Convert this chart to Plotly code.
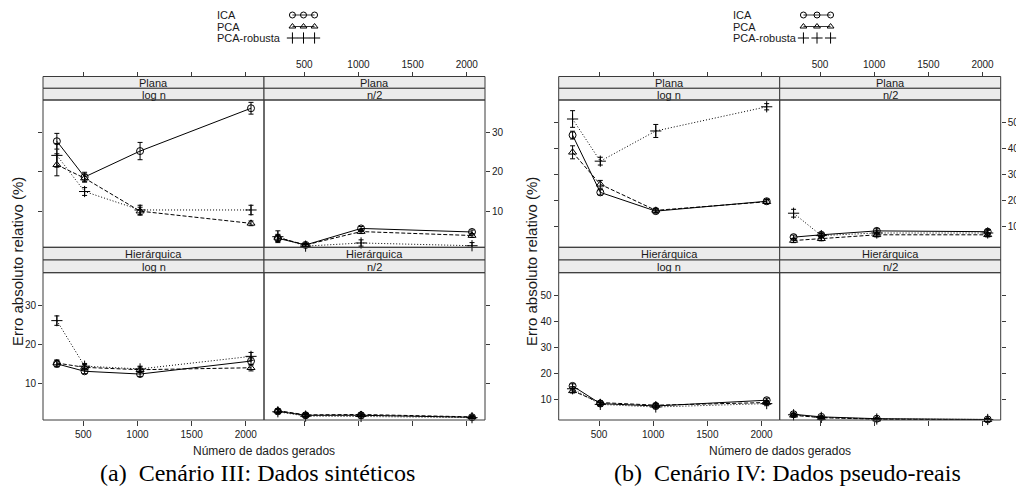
import plotly.graph_objects as go

W, H = 1016, 491

# ---------------- data ----------------
N_DADOS = [256, 512, 1024, 2048]
METODOS = ["ICA", "PCA", "PCA-robusta"]
ESTRUTURAS = ["Plana", "Hierárquica"]
CORTES = ["log n", "n/2"]
X_TICKS = [500, 1000, 1500, 2000]
Y_TICKS_III = [10, 20, 30]
Y_TICKS_IV = [10, 20, 30, 40, 50]
CAPTIONS = ["(a)\u00a0\u00a0Cenário III: Dados sintéticos", "(b)\u00a0\u00a0Cenário IV: Dados pseudo-reais"]
X_TITLE = "Número de dados gerados"
Y_TITLE = "Erro absoluto relativo (%)"

# Cenário III  (Plana / log n, Plana / n/2, Hierárquica / log n, Hierárquica / n/2)
III_ICA = [[27.8, 18.7, 25.3, 36.2], [3.1, 1.4, 5.6, 4.7], [15.1, 13.2, 12.5, 15.8], [3.0, 2.0, 2.0, 1.5]]
III_ICA_ERR = [[2.0, 1.2, 2.2, 1.5], [0.8, 0.4, 0.5, 0.5], [0.8, 0.6, 0.6, 1.0], [0.5, 0.4, 0.4, 0.3]]
III_PCA = [[21.8, 18.4, 10.0, 6.9], [3.3, 1.4, 4.8, 3.8], [15.3, 14.2, 13.6, 14.1], [3.2, 2.1, 2.2, 1.6]]
III_PCA_ERR = [[2.8, 1.0, 1.0, 0.6], [0.8, 0.4, 0.5, 0.5], [0.8, 0.7, 0.7, 0.8], [0.5, 0.4, 0.4, 0.3]]
III_ROB = [[24.2, 15.0, 10.3, 10.3], [3.5, 1.1, 1.9, 1.2], [26.1, 14.5, 13.8, 17.0], [2.9, 1.8, 1.7, 1.4]]
III_ROB_ERR = [[3.0, 1.0, 1.2, 1.2], [1.5, 0.4, 0.8, 0.8], [1.2, 0.7, 0.7, 1.0], [0.5, 0.4, 0.4, 0.3]]

# Cenário IV
IV_ICA = [[45.1, 23.1, 15.9, 19.7], [5.9, 6.8, 8.3, 8.0], [15.1, 8.3, 7.4, 9.6], [4.2, 3.2, 2.5, 2.2]]
IV_ICA_ERR = [[1.5, 1.0, 0.8, 0.8], [0.8, 0.8, 0.8, 0.8], [0.8, 0.7, 0.7, 0.8], [0.5, 0.4, 0.3, 0.3]]
IV_PCA = [[38.5, 26.2, 16.2, 19.5], [4.6, 5.3, 6.8, 6.8], [13.2, 8.7, 7.7, 8.7], [3.8, 2.9, 2.3, 2.1]]
IV_PCA_ERR = [[2.5, 1.5, 0.8, 0.8], [0.8, 0.8, 0.8, 0.8], [0.8, 0.7, 0.7, 0.8], [0.5, 0.4, 0.3, 0.3]]
IV_ROB = [[51.3, 35.1, 46.7, 56.0], [15.1, 6.5, 7.5, 7.5], [14.0, 8.0, 7.0, 8.3], [4.0, 3.0, 2.4, 2.2]]
IV_ROB_ERR = [[3.2, 1.5, 2.5, 1.2], [1.5, 0.8, 0.8, 1.0], [0.8, 0.7, 0.7, 0.8], [0.5, 0.4, 0.3, 0.3]]

LEGEND_KEY_X = [1, 2, 3]
LEGEND_ROW_Y = [3, 2, 1]

# ---------------- styling / layout ----------------
FONT = "Liberation Sans, Arial, Helvetica, sans-serif"
SERIF = "Liberation Serif, Times New Roman, serif"
INK = "#1a1a1a"
FRAME = "#3a3a3a"
STRIP_FILL = "#ececec"

STYLES = [
    dict(symbol="circle-open", dash="solid", size=7),
    dict(symbol="triangle-up-open", dash="4px,2px", size=7),
    dict(symbol="cross-thin-open", dash="1px,2px", size=8),
]

PLOTS = [
    dict(series=[(III_ICA, III_ICA_ERR), (III_PCA, III_PCA_ERR), (III_ROB, III_ROB_ERR)],
         yrange=[0.8, 38.3], yticks=Y_TICKS_III, x0=43.0, legend_text_x=215, legend_key=(288.0, 319.0),
         ytitle_x=17, caption_x=257),
    dict(series=[(IV_ICA, IV_ICA_ERR), (IV_PCA, IV_PCA_ERR), (IV_ROB, IV_ROB_ERR)],
         yrange=[2.0, 58.6], yticks=Y_TICKS_IV, x0=558.7, legend_text_x=731, legend_key=(798.0, 836.0),
         ytitle_x=531, caption_x=787),
]
PANEL_W = 221.0
XRANGE = [128, 2168]
ROWS = [dict(strip_top=76.5, strip_mid=88.3, ptop=100.0, pbot=247.3),
        dict(strip_top=247.3, strip_mid=260.0, ptop=272.7, pbot=420.0)]


def px(x):
    return x / W


def py(y):
    return 1 - y / H


fig = go.Figure()
layout = dict(
    template="none",
    width=W, height=H, margin=dict(l=0, r=0, t=0, b=0),
    paper_bgcolor="white", plot_bgcolor="rgba(0,0,0,0)",
    showlegend=False, font=dict(family=FONT, size=11, color=INK),
)
shapes = []
annotations = []

axis_common = dict(showgrid=False, zeroline=False, showline=False, ticks="outside",
                   tickcolor=FRAME, tickwidth=1, tickfont=dict(family=FONT, size=10, color=INK))

k = 0
for p, plot in enumerate(PLOTS):
    for r, row in enumerate(ROWS):
        for c in range(2):
            k += 1
            panel_idx = r * 2 + c
            xa0 = plot["x0"] + c * PANEL_W
            xa1 = xa0 + PANEL_W
            xname = "xaxis" if k == 1 else f"xaxis{k}"
            yname = "yaxis" if k == 1 else f"yaxis{k}"
            xref = "x" if k == 1 else f"x{k}"
            yref = "y" if k == 1 else f"y{k}"

            xa = dict(axis_common, domain=[px(xa0), px(xa1)], range=XRANGE, tickvals=X_TICKS,
                      ticklen=5)
            if r == 0:
                xa.update(anchor="free", position=py(row["strip_top"]), side="top",
                          showticklabels=(c == 1))
            else:
                xa.update(anchor=yref, side="bottom", showticklabels=(c == 0))
            ya = dict(axis_common, domain=[py(row["pbot"]), py(row["ptop"])], range=plot["yrange"],
                      tickvals=plot["yticks"], anchor=xref, ticklen=4)
            if c == 0:
                ya.update(side="left", showticklabels=(r == 1))
            else:
                ya.update(side="right", showticklabels=(r == 0))
            layout[xname] = xa
            layout[yname] = ya

            # traces
            for m, (vals, errs) in enumerate(plot["series"]):
                st = STYLES[m]
                fig.add_trace(go.Scatter(
                    x=N_DADOS, y=vals[panel_idx], xaxis=xref, yaxis=yref, mode="lines+markers",
                    name=METODOS[m], cliponaxis=False,
                    line=dict(color="black", width=1, dash=st["dash"]),
                    marker=dict(symbol=st["symbol"], size=st["size"], color="black",
                                line=dict(color="black", width=1)),
                    error_y=dict(type="data", array=errs[panel_idx], visible=True,
                                 color="black", thickness=1, width=2.5),
                ))

            # panel frame
            shapes.append(dict(type="rect", xref="paper", yref="paper",
                               x0=px(xa0), x1=px(xa1), y0=py(row["pbot"]), y1=py(row["ptop"]),
                               line=dict(color=FRAME, width=1), fillcolor="rgba(0,0,0,0)"))
            # strips
            for (t0, t1, label) in [(row["strip_top"], row["strip_mid"], ESTRUTURAS[r]),
                                    (row["strip_mid"], row["ptop"], CORTES[c])]:
                shapes.append(dict(type="rect", xref="paper", yref="paper", layer="below",
                                   x0=px(xa0), x1=px(xa1), y0=py(t1), y1=py(t0),
                                   line=dict(color=FRAME, width=1), fillcolor=STRIP_FILL))
                annotations.append(dict(xref="paper", yref="paper", x=px((xa0 + xa1) / 2),
                                        y=py((t0 + t1) / 2 + 0.5), text=label, showarrow=False,
                                        xanchor="center", yanchor="middle",
                                        font=dict(family=FONT, size=11, color=INK)))

    # axis titles
    xmid = plot["x0"] + PANEL_W
    annotations.append(dict(xref="paper", yref="paper", x=px(xmid), y=py(451), text=X_TITLE,
                            showarrow=False, xanchor="center", yanchor="middle",
                            font=dict(family=FONT, size=12, color=INK)))
    annotations.append(dict(xref="paper", yref="paper", x=px(plot["ytitle_x"]), y=py(262),
                            text=Y_TITLE, textangle=-90, showarrow=False, xanchor="center",
                            yanchor="middle", font=dict(family=FONT, size=15, color=INK)))
    annotations.append(dict(xref="paper", yref="paper", x=px(plot["caption_x"]), y=py(472.5),
                            text=CAPTIONS[p], showarrow=False, xanchor="center", yanchor="middle",
                            font=dict(family=SERIF, size=24, color="black")))

    # legend (text + keys drawn in a hidden axis)
    legend_rows_px = [15.0, 26.5, 38.0]
    for m in range(3):
        annotations.append(dict(xref="paper", yref="paper", x=px(plot["legend_text_x"]),
                                y=py(legend_rows_px[m]), text=METODOS[m], showarrow=False,
                                xanchor="left", yanchor="middle",
                                font=dict(family=FONT, size=11, color=INK)))
    k += 1
    lx, ly = f"x{k}", f"y{k}"
    layout[f"xaxis{k}"] = dict(domain=[px(plot["legend_key"][0]), px(plot["legend_key"][1])],
                               range=[0.6, 3.4], visible=False, anchor=ly, fixedrange=True)
    layout[f"yaxis{k}"] = dict(domain=[py(43.75), py(9.25)], range=[0.5, 3.5], visible=False,
                               anchor=lx, fixedrange=True)
    for m in range(3):
        st = STYLES[m]
        fig.add_trace(go.Scatter(
            x=LEGEND_KEY_X, y=[LEGEND_ROW_Y[m]] * len(LEGEND_KEY_X), xaxis=lx, yaxis=ly,
            mode="lines+markers" if m < 2 else "markers", cliponaxis=False,
            line=dict(color="black", width=0.8, dash="solid"),
            marker=dict(symbol=st["symbol"], size=6 if m < 2 else 8, color="black",
                        line=dict(color="black", width=1)),
        ))

layout["shapes"] = shapes
layout["annotations"] = annotations
fig.update_layout(**layout)
fig.write_html("out.html")
